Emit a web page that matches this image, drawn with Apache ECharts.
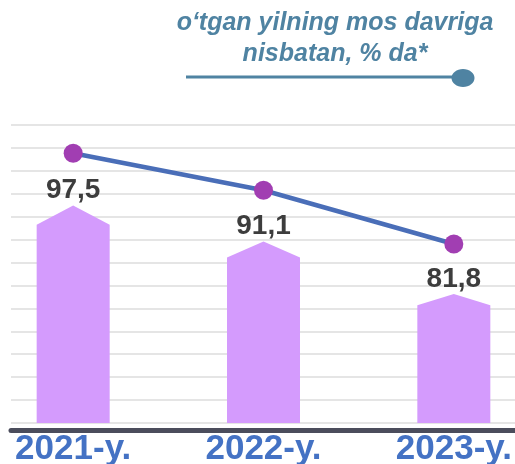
<!DOCTYPE html>
<html>
<head>
<meta charset="utf-8">
<script src="https://cdn.jsdelivr.net/npm/echarts@6/dist/echarts.min.js"></script>
<style>
  html, body { margin: 0; padding: 0; background: #fff; }
  #chart { width: 515px; height: 464px; }
</style>
</head>
<body>
<div id="chart"></div>
<script>
// данные
const categories = ['2021-y.', '2022-y.', '2023-y.'];
const growthPct = [97.5, 91.1, 81.8];
const legendText = 'o‘tgan yilning mos davriga\nnisbatan, % da*';

const barMin = 58.9, barMax = 111.8;
const lineMin = 50.8, lineMax = 102.4;

const fmt = v => String(v).replace('.', ',');

const chart = echarts.init(document.getElementById('chart'));

const option = {
  animation: false,
  grid: [
    { left: -22, right: -34, top: 125, bottom: 41, outerBoundsMode: 'none' },
    { left: 11, right: 0, top: 125, bottom: 41, outerBoundsMode: 'none' },
    // отдельная сетка только под толстую ось
    { left: 11, right: 0, top: 125, bottom: 34, outerBoundsMode: 'none' }
  ],
  xAxis: [
    {
      type: 'category', gridIndex: 0, data: categories,
      axisLine: { show: false }, axisTick: { show: false },
      axisLabel: {
        margin: 9, color: '#4472c4', fontSize: 35, fontWeight: 'bold',
        fontFamily: '"Liberation Sans", Arial, sans-serif', lineHeight: 35
      }
    },
    {
      type: 'value', gridIndex: 1, min: 0, max: 1, show: false
    },
    {
      type: 'value', gridIndex: 2, min: 0, max: 1,
      axisLine: { show: true, lineStyle: { color: '#4b4d5c', width: 5, cap: 'round' } },
      axisTick: { show: false }, axisLabel: { show: false }, splitLine: { show: false }
    }
  ],
  yAxis: [
    { type: 'value', gridIndex: 0, min: barMin, max: barMax, show: false },
    { type: 'value', gridIndex: 0, min: lineMin, max: lineMax, show: false },
    {
      type: 'value', gridIndex: 1, min: 0, max: 13, interval: 1,
      axisLine: { show: false }, axisTick: { show: false }, axisLabel: { show: false },
      splitLine: { lineStyle: { color: '#dcdcdc', width: 1.5 } }
    },
    { type: 'value', gridIndex: 2, min: 0, max: 1, show: false }
  ],
  graphic: [
    {
      type: 'text', x: 335, y: 8,
      style: {
        text: legendText, align: 'center', verticalAlign: 'top',
        font: 'italic bold 25px "Liberation Sans", Arial, sans-serif',
        lineHeight: 31, fill: '#4f83a2'
      }
    },
    {
      type: 'line',
      shape: { x1: 186, y1: 77, x2: 458, y2: 77 },
      style: { stroke: '#4f83a2', lineWidth: 3 }
    },
    {
      type: 'ellipse',
      shape: { cx: 463, cy: 78, rx: 11.5, ry: 9 },
      style: { fill: '#4f83a2' }
    }
  ],
  series: [
    {
      type: 'custom',
      xAxisIndex: 0, yAxisIndex: 0,
      data: growthPct.map((v, i) => [i, v]),
      encode: { x: 0, y: 1 },
      renderItem: (params, api) => {
        const top = api.coord([api.value(0), api.value(1)]);
        const base = api.coord([api.value(0), barMin]);
        const w = 73;
        const cx = top[0];
        const h = base[1] - top[1];
        const peak = h * 0.088;
        return {
          type: 'group',
          children: [
            {
              type: 'polygon',
              shape: {
                points: [
                  [cx - w / 2, base[1]],
                  [cx - w / 2, top[1] + peak],
                  [cx, top[1]],
                  [cx + w / 2, top[1] + peak],
                  [cx + w / 2, base[1]]
                ]
              },
              style: { fill: '#d49bfd' }
            },
            {
              type: 'text',
              x: cx, y: top[1] - 1,
              style: {
                text: fmt(api.value(1)),
                align: 'center', verticalAlign: 'bottom',
                font: 'bold 28px "Liberation Sans", Arial, sans-serif',
                fill: '#3d3d3d'
              }
            }
          ]
        };
      }
    },
    {
      type: 'line',
      xAxisIndex: 0, yAxisIndex: 1,
      data: growthPct,
      symbol: 'circle', symbolSize: 19,
      itemStyle: { color: '#a13eb2' },
      lineStyle: { color: '#4a6eb8', width: 4.5 },
      z: 5
    }
  ]
};

chart.setOption(option);
</script>
</body>
</html>
